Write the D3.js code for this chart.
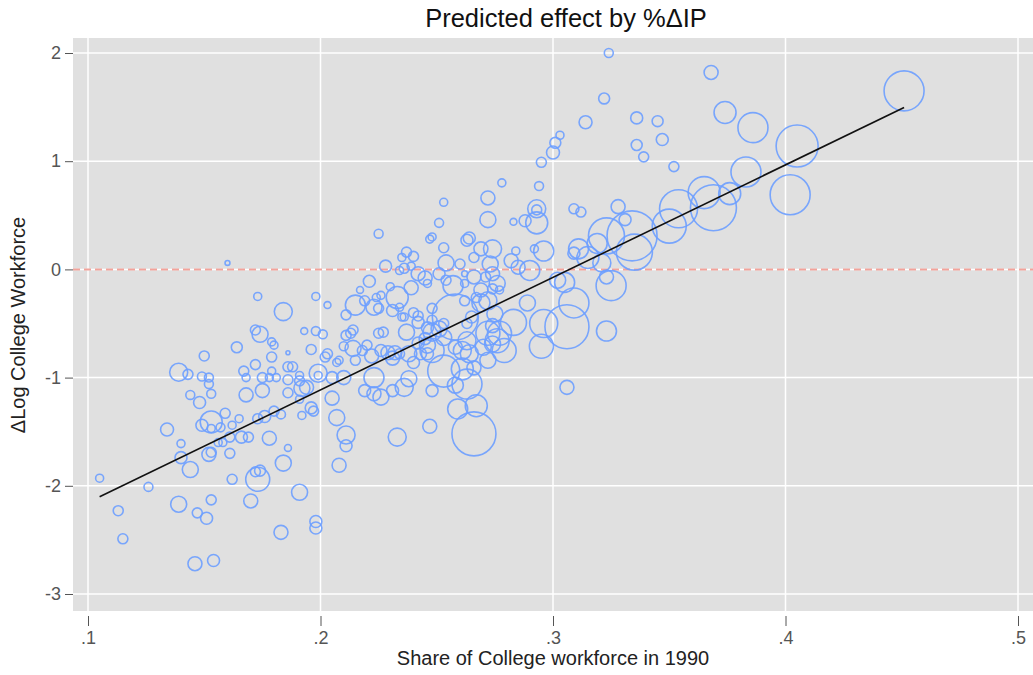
<!DOCTYPE html>
<html><head><meta charset="utf-8">
<script src="https://cdn.jsdelivr.net/npm/d3@7"></script>
<style>body{margin:0;background:#fff}svg{display:block}text{font-family:"Liberation Sans",Arial,sans-serif}</style>
</head><body><svg id="c" width="1033" height="675"></svg>
<script>
// Share of college workforce in 1990 (x)
const shareCollege1990 = [
0.105,0.113,0.115,0.126,0.134,0.139,0.143,0.140,0.140,0.144,
0.139,0.147,0.151,0.153,0.146,0.154,0.144,0.148,0.150,0.149,
0.152,0.152,0.153,0.153,0.149,0.159,0.153,0.157,0.162,0.165,
0.161,0.156,0.158,0.153,0.152,0.161,0.162,0.173,0.172,0.174,
0.170,0.183,0.184,0.191,0.186,0.178,0.166,0.169,0.173,0.176,
0.180,0.183,0.168,0.175,0.164,0.172,0.174,0.179,0.180,0.173,
0.184,0.198,0.193,0.198,0.186,0.196,0.179,0.172,0.167,0.168,
0.175,0.179,0.178,0.181,0.186,0.188,0.186,0.186,0.191,0.194,
0.191,0.196,0.192,0.198,0.198,0.199,0.199,0.160,0.208,0.211,
0.211,0.253,0.272,0.272,0.251,0.247,0.248,0.253,0.263,0.264,
0.269,0.274,0.225,0.237,0.235,0.240,0.228,0.236,0.239,0.242,
0.254,0.260,0.254,0.266,0.273,0.271,0.221,0.217,0.230,0.233,
0.239,0.246,0.257,0.258,0.269,0.274,0.269,0.272,0.276,0.203,
0.211,0.215,0.219,0.224,0.226,0.225,0.223,0.231,0.234,0.235,
0.236,0.240,0.242,0.242,0.248,0.246,0.248,0.251,0.253,0.265,
0.263,0.272,0.275,0.201,0.203,0.202,0.207,0.208,0.211,0.213,
0.214,0.210,0.214,0.215,0.218,0.220,0.225,0.227,0.222,0.226,
0.229,0.232,0.231,0.234,0.237,0.242,0.245,0.246,0.248,0.246,
0.243,0.238,0.253,0.258,0.261,0.264,0.266,0.272,0.263,0.274,
0.259,0.267,0.266,0.191,0.205,0.210,0.192,0.197,0.205,0.207,
0.223,0.219,0.223,0.226,0.236,0.238,0.248,0.247,0.233,0.314,
0.303,0.301,0.300,0.295,0.278,0.294,0.283,0.288,0.293,0.293,
0.293,0.309,0.312,0.328,0.284,0.282,0.285,0.292,0.296,0.290,
0.262,0.262,0.277,0.262,0.267,0.274,0.289,0.283,0.277,0.276,
0.279,0.270,0.296,0.306,0.309,0.305,0.302,0.295,0.323,0.306,
0.261,0.311,0.309,0.315,0.319,0.323,0.334,0.335,0.321,0.323,
0.325,0.331,0.350,0.354,0.365,0.324,0.368,0.322,0.374,0.336,
0.345,0.347,0.336,0.339,0.352,0.386,0.451,0.405,0.383,0.402,
0.376,0.369,0.266,0.234,0.245,0.251,0.248,0.253,0.263,0.274,
0.240,0.258,0.231];
// ΔLog college workforce (y)
const dLogCollege = [
-1.93,-2.23,-2.49,-2.01,-1.48,-0.95,-0.97,-1.61,-1.74,-1.85,
-2.17,-2.25,-2.30,-2.13,-2.72,-2.69,-1.16,-1.23,-0.80,-0.99,
-1.00,-1.06,-1.15,-1.41,-1.44,-1.33,-1.47,-1.46,-1.44,-1.38,
-1.55,-1.60,-1.60,-1.69,-1.71,-1.70,-1.94,-1.94,-1.87,-1.86,
-2.14,-2.43,-1.79,-2.06,-1.65,-1.56,-1.55,-1.55,-1.38,-1.36,
-1.31,-1.34,-1.16,-1.12,-0.72,-0.56,-0.60,-0.67,-0.70,-0.25,
-0.39,-0.25,-0.57,-0.57,-0.77,-0.74,-0.81,-0.88,-0.94,-1.00,
-1.00,-0.94,-1.00,-1.00,-0.90,-0.90,-1.02,-1.14,-0.98,-1.09,
-1.20,-1.28,-1.35,-2.33,-2.39,-0.96,-0.98,0.06,-1.81,-1.53,
-1.63,0.62,0.66,0.46,0.43,0.28,0.30,0.20,0.27,0.29,
0.19,0.19,0.33,0.16,0.11,0.12,0.03,0.01,0.03,-0.04,
0.06,0.05,-0.10,-0.07,0.05,-0.07,-0.11,-0.19,-0.16,-0.26,
-0.17,-0.13,-0.15,-0.44,-0.19,-0.18,-0.31,-0.29,-0.13,-0.33,
-0.42,-0.33,-0.29,-0.26,-0.24,-0.36,-0.35,-0.38,-0.35,-0.44,
-0.44,-0.40,-0.43,-0.49,-0.36,-0.54,-0.58,-0.55,-0.50,-0.44,
-0.50,-0.59,-0.41,-0.60,-0.78,-0.81,-0.86,-0.84,-0.61,-0.59,
-0.56,-0.71,-0.73,-0.84,-0.75,-0.70,-0.59,-0.58,-0.80,-0.75,
-0.77,-0.77,-0.82,-0.78,-0.58,-0.68,-0.64,-0.70,-0.75,-0.78,
-0.78,-0.78,-0.94,-0.72,-0.75,-0.78,-0.91,-0.84,-1.06,-0.69,
-1.29,-1.26,-1.52,-1.03,-1.00,-1.00,-1.10,-1.31,-1.19,-1.37,
-1.00,-1.12,-1.15,-1.18,-1.09,-1.01,-1.12,-1.45,-1.55,1.36,
1.24,1.17,1.08,0.99,0.80,0.77,0.44,0.45,0.56,0.55,
0.43,0.56,0.53,0.58,0.17,0.08,0.02,0.19,0.17,-0.01,
-0.04,-0.13,-0.19,-0.29,-0.26,-0.04,-0.31,-0.49,-0.59,-0.66,
-0.75,-0.72,-0.50,-0.53,-0.31,-0.12,-0.10,-0.71,-0.57,-1.09,
-0.92,0.19,0.15,0.11,0.24,0.31,0.31,0.16,0.06,-0.07,
-0.15,0.46,0.40,0.56,0.71,2.00,1.82,1.58,1.45,1.40,
1.37,1.20,1.15,1.04,0.95,1.31,1.65,1.14,0.90,0.69,
0.70,0.57,0.11,-0.01,-0.08,-0.04,-0.47,-0.63,-0.66,-0.52,
-0.86,-1.07,-1.12];
// weight (bubble size)
const weight = [
16,25,25,20,42,81,25,16,36,64,
64,25,36,25,49,36,20,36,25,20,
20,20,20,121,36,25,16,20,16,16,
25,16,16,25,49,25,25,144,25,30,
49,49,64,64,12,49,36,25,25,36,
25,20,49,49,30,25,64,16,16,16,
81,16,12,20,4,25,25,25,25,16,
25,16,16,16,25,25,25,25,16,49,
16,36,16,36,36,81,16,6,49,81,
36,16,49,64,20,16,16,25,36,36,
49,81,20,25,16,25,36,25,16,49,
64,25,25,49,64,25,36,12,16,121,
49,16,100,529,49,25,81,81,64,12,
25,100,25,16,16,25,64,36,16,16,
16,25,25,36,25,36,81,64,25,36,
25,144,64,20,25,25,16,16,25,25,
25,20,64,25,25,25,25,25,49,36,
49,49,49,25,64,36,36,64,144,36,
36,64,256,49,81,81,49,64,225,64,
100,121,484,25,36,49,64,25,49,64,
100,36,49,64,81,64,36,49,81,42,
16,30,42,25,16,20,12,36,81,25,
121,25,25,49,16,49,49,16,100,100,
9,16,16,25,25,49,64,169,144,144,
144,64,196,484,225,100,64,144,100,49,
121,100,36,121,100,324,625,324,81,49,
225,36,289,361,256,20,49,30,121,36,
30,36,30,25,25,225,400,441,225,400,
121,529,25,16,49,36,25,64,81,49,
36,64,36];
const fitIntercept = -3.194, fitSlope = 10.4;
const xTicks = [0.1,0.2,0.3,0.4,0.5];
const xTickLabels = [".1",".2",".3",".4",".5"];
const yTicks = [-3,-2,-1,0,1,2];
const yTickLabels = ["-3","-2","-1","0","1","2"];
const titleText = "Predicted effect by %ΔIP";
const xTitle = "Share of College workforce in 1990";
const yTitle = "ΔLog College Workforce";

const svg = d3.select("#c");
const P = {l:73, r:1033, t:38, b:611};
const x = d3.scaleLinear().domain([0.1,0.5]).range([88,1018]);
const y = d3.scaleLinear().domain([-3,2]).range([594,53]);
const rs = d3.scaleSqrt().domain([0, d3.max(weight)]).range([0, 25]);

svg.append("rect").attr("x",P.l).attr("y",P.t).attr("width",P.r-P.l).attr("height",P.b-P.t).attr("fill","#e0e0e0");
svg.append("g").selectAll("line").data(xTicks).join("line")
  .attr("x1",d=>x(d)).attr("x2",d=>x(d)).attr("y1",P.t).attr("y2",P.b)
  .attr("stroke","#fff").attr("stroke-width",1.5);
svg.append("g").selectAll("line").data(yTicks).join("line")
  .attr("x1",P.l).attr("x2",P.r).attr("y1",d=>y(d)).attr("y2",d=>y(d))
  .attr("stroke","#fff").attr("stroke-width",1.5);
svg.append("line").attr("x1",P.l).attr("x2",P.r).attr("y1",y(0)).attr("y2",y(0))
  .attr("stroke","#f2a39b").attr("stroke-width",2).attr("stroke-dasharray","7,4");

const pts = shareCollege1990.map((v,i)=>({x:v,y:dLogCollege[i],w:weight[i]}));
svg.append("g").selectAll("circle").data(pts).join("circle")
  .attr("cx",d=>x(d.x)).attr("cy",d=>y(d.y)).attr("r",d=>rs(d.w))
  .attr("fill","none").attr("stroke","#6d9eff").attr("stroke-width",1.6).attr("stroke-opacity",0.9);

const ext = d3.extent(shareCollege1990);
svg.append("path").datum(ext).attr("d",d3.line().x(d=>x(d)).y(d=>y(fitIntercept+fitSlope*d)))
  .attr("stroke","#111").attr("stroke-width",1.6).attr("fill","none");

const FF = "Liberation Sans, Arial, sans-serif";
// y axis
const ya = svg.append("g").attr("transform",`translate(${P.l},0)`)
  .call(d3.axisLeft(y).tickValues(yTicks).tickSize(8).tickPadding(4).tickFormat((d,i)=>yTickLabels[i]));
ya.select(".domain").remove();
ya.selectAll(".tick line").attr("stroke","#555");
ya.selectAll("text").attr("fill","#555").attr("font-size",18).style("font-family",FF);
// x axis
const xa = svg.append("g").attr("transform",`translate(0,${P.b+5})`)
  .call(d3.axisBottom(x).tickValues(xTicks).tickSize(10).tickPadding(5).tickFormat((d,i)=>xTickLabels[i]));
xa.select(".domain").remove();
xa.selectAll(".tick line").attr("stroke","#555");
xa.selectAll("text").attr("fill","#555").attr("font-size",18).style("font-family",FF);

svg.append("text").attr("x",566).attr("y",27).attr("text-anchor","middle").attr("font-size",25.5).attr("fill","#111").text(titleText);
svg.append("text").attr("x",553).attr("y",665).attr("text-anchor","middle").attr("font-size",20).attr("fill","#222").text(xTitle);
svg.append("text").attr("transform","translate(25,325) rotate(-90)").attr("text-anchor","middle").attr("font-size",20).attr("fill","#222").text(yTitle);
</script></body></html>
